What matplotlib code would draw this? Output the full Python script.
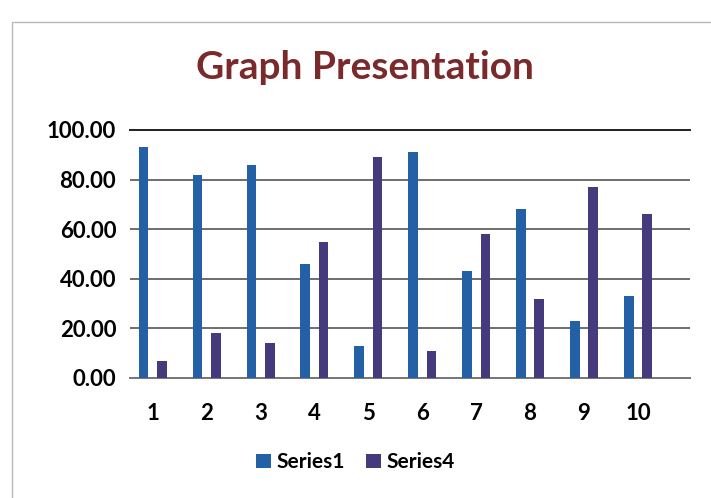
import matplotlib.pyplot as plt
import numpy as np
from matplotlib.patches import Rectangle

plt.rcParams['font.family'] = ['Lato', 'DejaVu Sans']

categories = [1, 2, 3, 4, 5, 6, 7, 8, 9, 10]
series1 = [93, 82, 86, 46, 13, 91, 43, 68, 23, 33]
series4 = [7, 18, 14, 55, 89, 11, 58, 32, 77, 66]

c1 = '#2360a6'
c4 = '#453a7c'

fig = plt.figure(figsize=(7.11, 4.98), dpi=100)
fig.patches.append(Rectangle((0.017, -0.01), 1.0, 0.966, transform=fig.transFigure,
                             fill=False, edgecolor='#b8b8b8', linewidth=1.0))

ax = fig.add_axes([0.183, 0.241, 0.787, 0.498])
x = np.array(categories)
w = 0.18
ax.bar(x - 0.17, series1, width=w, color=c1, label='Series1', zorder=3)
ax.bar(x + 0.17, series4, width=w, color=c4, label='Series4', zorder=3)

ax.set_xlim(0.58, 10.96)
ax.set_ylim(0, 100)
ax.set_yticks(np.arange(0, 101, 20))
ax.set_yticklabels(['%.2f' % v for v in np.arange(0, 101, 20)], fontsize=16, fontweight='bold')
ax.set_xticks(x)
ax.set_xticklabels([str(c) for c in categories], fontsize=16, fontweight='bold')
ax.tick_params(axis='both', length=0)
ax.tick_params(axis='x', pad=18)
ax.tick_params(axis='y', pad=10)
ax.grid(axis='y', color='#555555', linewidth=1.2, zorder=0)
for s in ['left', 'right']:
    ax.spines[s].set_visible(False)
ax.spines['top'].set_color('#222222')
ax.spines['top'].set_linewidth(1.4)
ax.spines['bottom'].set_color('#777777')
ax.spines['bottom'].set_linewidth(1.4)

fig.text(0.513, 0.865, 'Graph Presentation', ha='center', va='center',
         fontsize=28, fontweight='bold', color='#7a2a2a')

fig.legend(loc='center', bbox_to_anchor=(0.5, 0.072), ncol=2, frameon=False,
           prop={'size': 15, 'weight': 'bold'}, handlelength=0.7, handleheight=0.7,
           handletextpad=0.3, columnspacing=1.0)

fig.savefig('out.png', dpi=100)
